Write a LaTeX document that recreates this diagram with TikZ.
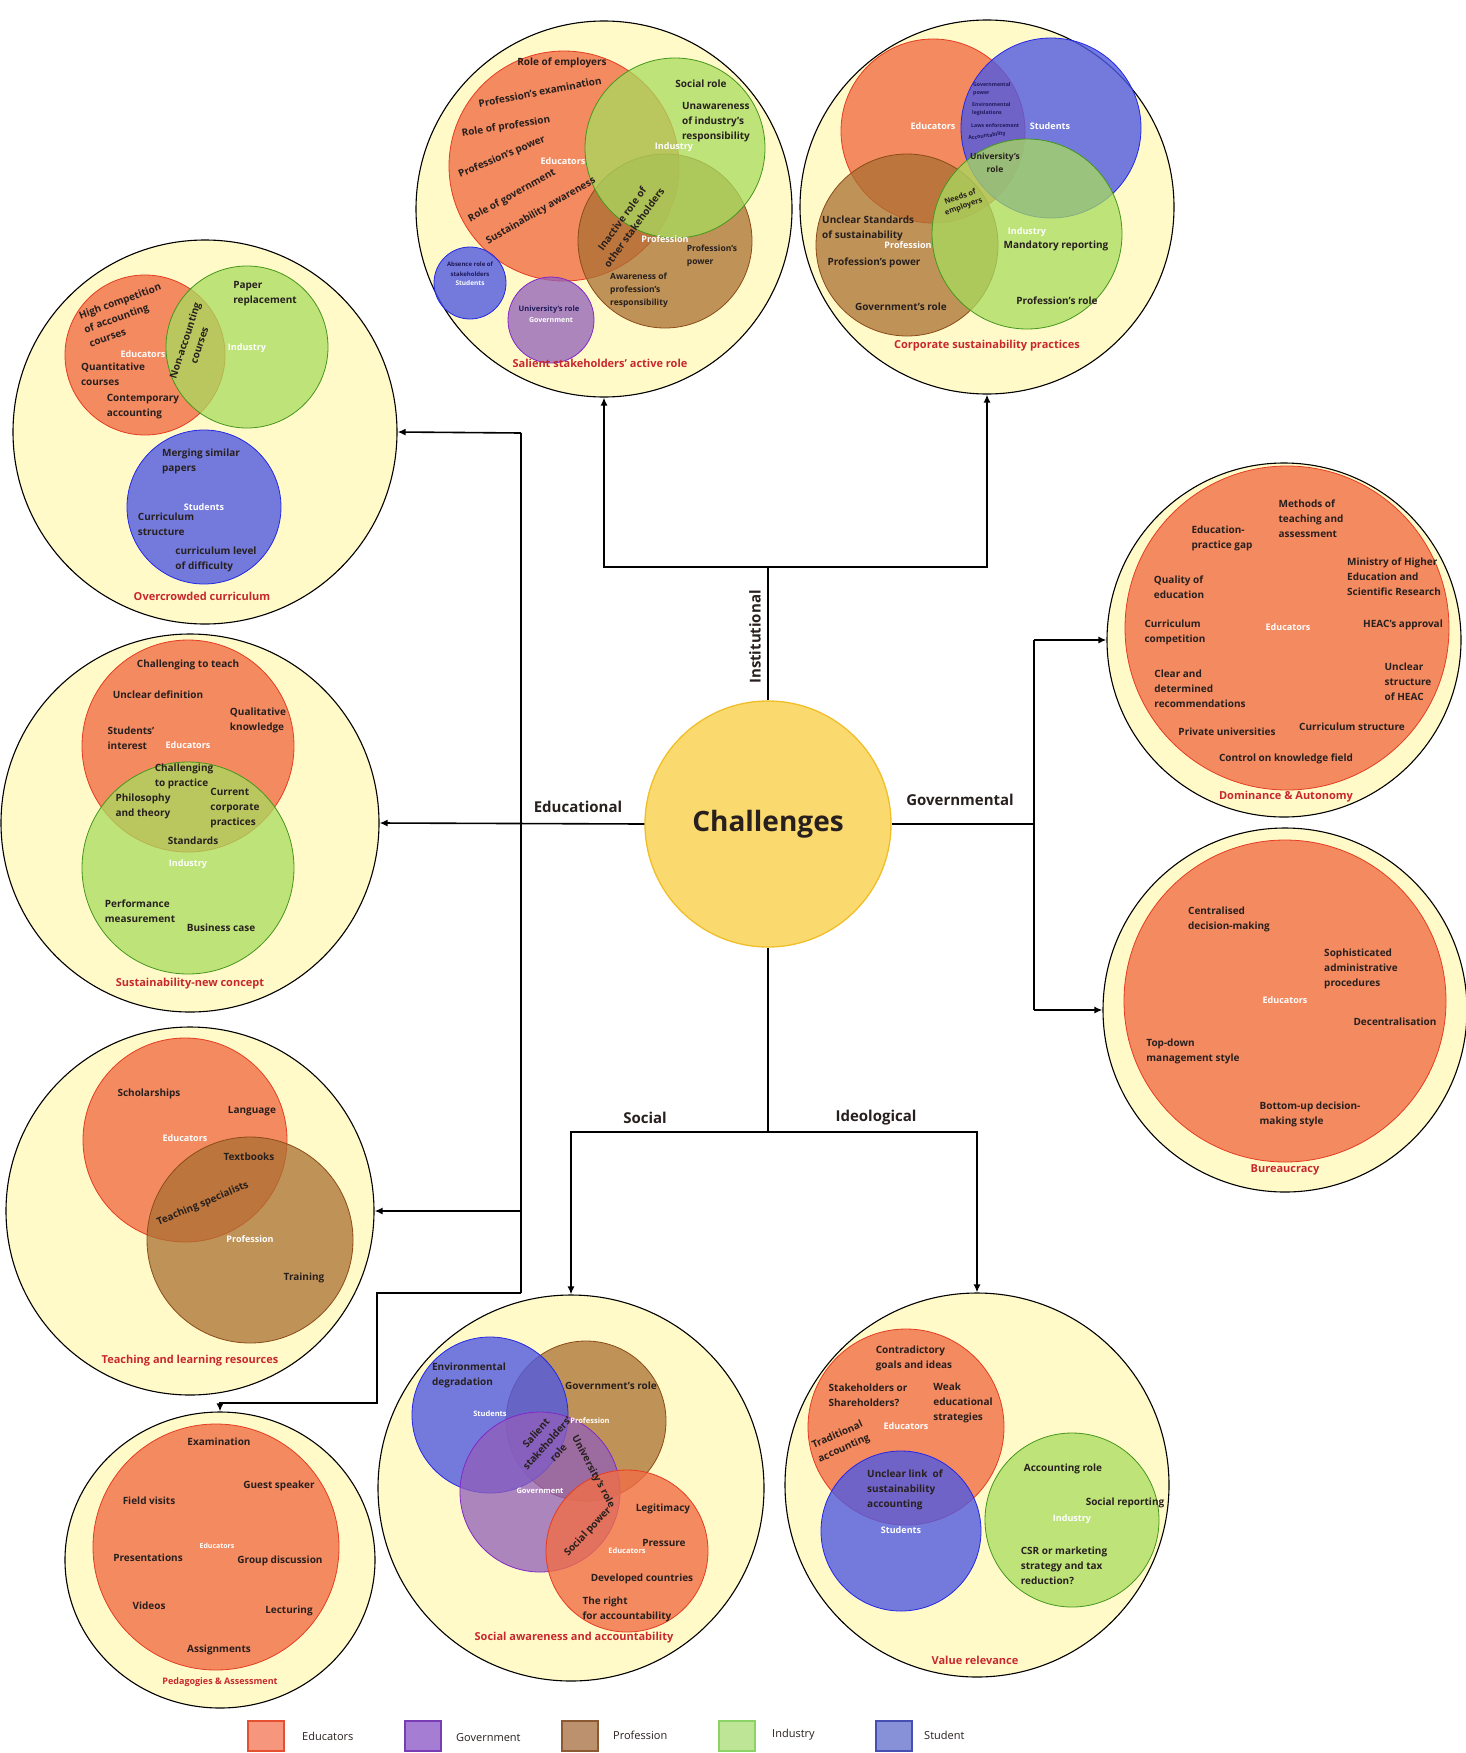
\documentclass[tikz,border=0pt]{standalone}
\usepackage{fontspec}
\setmainfont{Open Sans}
\usetikzlibrary{arrows.meta,shapes.geometric}
\definecolor{outerF}{RGB}{255,250,200}
\definecolor{itemC}{RGB}{40,32,30}
\definecolor{titleC}{RGB}{200,40,45}
\definecolor{chF}{RGB}{250,218,110}
\definecolor{chD}{RGB}{240,190,40}
\definecolor{eduF}{RGB}{240,110,70}
\definecolor{eduD}{RGB}{230,60,35}
\definecolor{indF}{RGB}{168,220,95}
\definecolor{indD}{RGB}{70,150,30}
\definecolor{proF}{RGB}{170,112,50}
\definecolor{proD}{RGB}{140,75,25}
\definecolor{stuF}{RGB}{80,90,225}
\definecolor{stuD}{RGB}{35,40,230}
\definecolor{govF}{RGB}{145,95,185}
\definecolor{govD}{RGB}{130,40,200}
\definecolor{navyC}{RGB}{30,25,90}
\definecolor{lgEduF}{RGB}{246,150,125}\definecolor{lgEduD}{RGB}{230,80,50}
\definecolor{lgGovF}{RGB}{165,125,210}\definecolor{lgGovD}{RGB}{120,60,180}
\definecolor{lgProF}{RGB}{188,145,110}\definecolor{lgProD}{RGB}{140,90,50}
\definecolor{lgIndF}{RGB}{190,228,150}\definecolor{lgIndD}{RGB}{140,210,100}
\definecolor{lgStuF}{RGB}{135,145,215}\definecolor{lgStuD}{RGB}{70,80,180}
\begin{document}
\begin{tikzpicture}[x=1pt,y=-1pt,
  outer/.style={circle,draw=black,line width=1.1pt,fill=outerF,inner sep=0pt},
  vedu/.style={fill=eduF,draw=eduD,fill opacity=0.8,line width=0.8pt},
  vind/.style={fill=indF,draw=indD,fill opacity=0.75,line width=0.8pt},
  vpro/.style={fill=proF,draw=proD,fill opacity=0.75,line width=0.8pt},
  vstu/.style={fill=stuF,draw=stuD,fill opacity=0.8,line width=0.8pt},
  vgov/.style={fill=govF,draw=govD,fill opacity=0.75,line width=0.8pt},
  it/.style={font=\bfseries\fontsize{10}{15}\selectfont,text=itemC,align=center,inner sep=0pt},
  itl/.style={it,align=left},
  sm/.style={font=\bfseries\fontsize{8.5}{13}\selectfont},
  tiny/.style={font=\bfseries\fontsize{5.2}{8}\selectfont,text=navyC},
  wl/.style={font=\bfseries\fontsize{9}{10}\selectfont,text=white,inner sep=0pt},
  ttl/.style={font=\bfseries\fontsize{11}{13}\selectfont,text=titleC,inner sep=0pt},
  brl/.style={font=\bfseries\fontsize{15}{17}\selectfont,text=itemC,inner sep=0pt},
  conn/.style={draw=black,line width=1.6pt},
  arr/.style={conn,-{Latex[length=8pt,width=7pt]}},
  lgbox/.style={minimum width=36pt,minimum height=30pt,line width=1.4pt,inner sep=0pt},
  lgtxt/.style={font=\fontsize{11}{13}\selectfont,text=itemC,anchor=west,inner sep=0pt}]
\useasboundingbox (0,0) rectangle (1465,1753);
\fill[white] (0,0) rectangle (1465,1753);

% ---------- outer theme circles ----------
\node[outer,minimum size=376pt] (ss) at (604,209) {};
\node[outer,minimum size=374pt] (cs) at (987,207) {};
\node[outer,minimum size=384pt] (oc) at (205,432) {};
\node[outer,minimum size=378pt] (sn) at (190,823) {};
\node[outer,minimum size=368pt] (tl) at (190,1211) {};
\node[outer,ellipse,minimum width=310pt,minimum height=296pt] (pa) at (220,1560) {};
\node[outer,minimum size=386pt] (sa) at (571,1488) {};
\node[outer,minimum size=384pt] (vr) at (977,1485) {};
\node[outer,minimum size=354pt] (da) at (1284,640) {};
\node[outer,minimum size=364pt] (bu) at (1285,1010) {};

% ---------- central node and connectors ----------
\node[circle,fill=chF,draw=chD,line width=1.3pt,minimum size=246pt,inner sep=0pt,
      font=\bfseries\fontsize{28}{32}\selectfont,text=itemC] (ch) at (768,824) {Challenges};

\coordinate (tj) at (768,567);
\draw[conn] (ch.north) -- (tj);
\draw[arr] (tj) -| (ss.south);
\draw[arr] (tj) -| (cs.south);

\coordinate (lvt) at (521,433);
\coordinate (lvb) at (521,1293);
\coordinate (lb1) at (377,1293);
\coordinate (lb2) at (377,1403);
\draw[conn] (lvt) -- (lvb);
\draw[arr] (lvt) -- (oc.east);
\draw[arr] (ch.west) -- (sn.east);
\draw[arr] (lvb |- tl.east) -- (tl.east);
\draw[arr] (lvb) -- (lb1) -- (lb2) -| (pa.north);

\coordinate (rvt) at (1034,640);
\coordinate (rvb) at (1034,1010);
\draw[conn] (ch.east) -- (ch.east -| rvt);
\draw[conn] (rvt) -- (rvb);
\draw[arr] (rvt) -- (da.west);
\draw[arr] (rvb) -- (bu.west);

\coordinate (bj) at (768,1132);
\draw[conn] (ch.south) -- (bj);
\draw[arr] (bj) -| (sa.north);
\draw[arr] (bj) -| (vr.north);

\node[brl,rotate=90] (lbi) at (755,637) {Institutional};
\node[brl] (lbe) at (578,807) {Educational};
\node[brl] (lbg) at (960,800) {Governmental};
\node[brl] (lbs) at (645,1118) {Social};
\node[brl] (lbd) at (876,1118) {Ideological};

% ---------- Salient stakeholders' active role ----------
\path[vedu] (564,166) circle (115);
\path[vpro] (665,241) circle (87);
\path[vind] (675,148) circle (90);
\path[vstu] (470,283) circle (36);
\path[vgov] (551,320) circle (43);
\node[it] (ss1) at (562,63) {Role of employers};
\node[it,rotate=11] (ss2) at (540,92) {Profession’s examination};
\node[it,rotate=9] (ss3) at (506,127) {Role of profession};
\node[it,rotate=23] (ss4) at (502,157) {Profession’s power};
\node[it,rotate=29] (ss5) at (512,196) {Role of government};
\node[it,rotate=30] (ss6) at (541,211) {Sustainability awareness};
\node[wl] (ss7) at (563,161) {Educators};
\node[it] (ss8) at (701,84) {Social role};
\node[itl] (ss9) at (716,122) {Unawareness\\of industry’s\\responsibility};
\node[wl] (ss10) at (674,147) {Industry};
\node[it,rotate=54] (ss11) at (628,223) {Inactive role of\\other stakeholders};
\node[wl] (ss12) at (665,239) {Profession};
\node[itl,sm] (ss13) at (712,256) {Profession’s\\power};
\node[itl,sm] (ss14) at (639,290) {Awareness of\\profession’s\\responsibility};
\node[it,tiny,font=\bfseries\fontsize{6}{10}\selectfont] (ss15) at (470,269) {Absence role of\\stakeholders};
\node[wl,font=\bfseries\fontsize{6.5}{8}\selectfont] (ss16) at (470,283) {Students};
\node[it,font=\bfseries\fontsize{7.5}{9}\selectfont,text=navyC] (ss17) at (549,310) {University’s role};
\node[wl,font=\bfseries\fontsize{7}{8}\selectfont] (ss18) at (551,320) {Government};
\node[ttl] (ss19) at (600,363) {Salient stakeholders’ active role};

% ---------- Corporate sustainability practices ----------
\path[vedu] (933,131) circle (92);
\path[vstu] (1051,128) circle (90);
\path[vpro] (907,245) circle (91);
\path[vind] (1027,234) circle (95);
\node[it,tiny,align=left,anchor=west] (cs1) at (973,89) {Governmental\\power};
\node[it,tiny,align=left,anchor=west] (cs2) at (972,109) {Environmental\\legislations};
\node[it,tiny,anchor=west] (cs3) at (971,126) {Laws enforcement};
\node[it,tiny,rotate=8] (cs4) at (987,136) {Accountability};
\node[wl] (cs5) at (933,126) {Educators};
\node[wl] (cs6) at (1050,126) {Students};
\node[it,sm] (cs7) at (995,163) {University’s\\role};
\node[it,font=\bfseries\fontsize{7.5}{10}\selectfont,rotate=20] (cs8) at (962,202) {Needs of\\employers};
\node[itl,anchor=west] (cs9) at (822,228) {Unclear Standards\\of sustainability};
\node[wl] (cs10) at (908,245) {Profession};
\node[it] (cs11) at (874,263) {Profession’s power};
\node[it] (cs12) at (901,307) {Government’s role};
\node[wl] (cs13) at (1027,232) {Industry};
\node[it] (cs14) at (1056,246) {Mandatory reporting};
\node[it] (cs15) at (1057,301) {Profession’s role};
\node[ttl] (cs16) at (987,346) {Corporate sustainability practices};

% ---------- Overcrowded curriculum ----------
\path[vedu] (145,355) circle (80);
\node[wl] (oc1) at (143,354) {Educators};
\path[vind] (247,347) circle (81);
\path[vstu] (204,507) circle (77);
\node[itl,rotate=20] (oc2) at (125,315) {High competition\\of accounting\\courses};
\node[itl] (oc3) at (113,374) {Quantitative\\courses};
\node[itl] (oc4) at (143,407) {Contemporary\\accounting};
\node[it,rotate=72] (oc5) at (192,343) {Non-accounting\\courses};
\node[itl] (oc6) at (265,294) {Paper\\replacement};
\node[wl] (oc7) at (247,348) {Industry};
\node[itl] (oc8) at (201,461) {Merging similar\\papers};
\node[wl] (oc9) at (204,507) {Students};
\node[itl] (oc10) at (166,524) {Curriculum\\structure};
\node[itl] (oc11) at (216,559) {curriculum level\\of difficulty};
\node[ttl] (oc12) at (202,596) {Overcrowded curriculum};

% ---------- Sustainability-new concept ----------
\path[vedu] (188,746) circle (106);
\path[vind] (188,868) circle (106);
\node[it] (sn1) at (188,665) {Challenging to teach};
\node[it] (sn2) at (158,695) {Unclear definition};
\node[itl] (sn3) at (258,720) {Qualitative\\knowledge};
\node[itl] (sn4) at (131,738) {Students’\\interest};
\node[wl] (sn5) at (188,745) {Educators};
\node[itl] (sn6) at (184,776) {Challenging\\to practice};
\node[itl] (sn7) at (143,806) {Philosophy\\and theory};
\node[itl] (sn8) at (235,808) {Current\\corporate\\practices};
\node[it] (sn9) at (193,841) {Standards};
\node[wl] (sn10) at (188,864) {Industry};
\node[itl] (sn11) at (140,911) {Performance\\measurement};
\node[it] (sn12) at (221,928) {Business case};
\node[ttl] (sn13) at (190,984) {Sustainability-new concept};

% ---------- Teaching and learning resources ----------
\path[vedu] (185,1140) circle (102);
\path[vpro] (250,1240) circle (103);
\node[it] (tl1) at (149,1094) {Scholarships};
\node[it] (tl2) at (252,1111) {Language};
\node[wl] (tl3) at (185,1138) {Educators};
\node[it] (tl4) at (249,1157) {Textbooks};
\node[it,rotate=23] (tl5) at (203,1204) {Teaching specialists};
\node[wl] (tl6) at (250,1239) {Profession};
\node[it] (tl7) at (304,1278) {Training};
\node[ttl] (tl8) at (190,1361) {Teaching and learning resources};

% ---------- Pedagogies & Assessment ----------
\path[vedu] (216,1547) circle (123);
\node[it] (pa1) at (219,1442) {Examination};
\node[it] (pa2) at (279,1486) {Guest speaker};
\node[it] (pa3) at (149,1501) {Field visits};
\node[wl,font=\bfseries\fontsize{7}{8}\selectfont] (pa4) at (217,1546) {Educators};
\node[it] (pa5) at (148,1558) {Presentations};
\node[it] (pa6) at (280,1561) {Group discussion};
\node[it] (pa7) at (149,1606) {Videos};
\node[it] (pa8) at (289,1611) {Lecturing};
\node[it] (pa9) at (219,1650) {Assignments};
\node[ttl,font=\bfseries\fontsize{9}{11}\selectfont] (pa10) at (220,1682) {Pedagogies \& Assessment};

% ---------- Social awareness and accountability ----------
\path[vpro] (586,1421) circle (80);
\path[vstu] (490,1415) circle (78);
\path[vgov] (540,1492) circle (80);
\path[vedu] (627,1551) circle (81);
\node[itl] (sa1) at (469,1375) {Environmental\\degradation};
\node[it] (sa2) at (611,1386) {Government’s role};
\node[wl,font=\bfseries\fontsize{7.5}{8}\selectfont] (sa3) at (490,1414) {Students};
\node[wl,font=\bfseries\fontsize{7.5}{8}\selectfont] (sa4) at (590,1421) {Profession};
\node[it,rotate=48] (sa5) at (547,1443) {Salient\\stakeholders’\\role};
\node[it,rotate=-62] (sa6) at (593,1472) {University’s role};
\node[wl,font=\bfseries\fontsize{7.5}{8}\selectfont] (sa7) at (540,1491) {Government};
\node[it,rotate=47] (sa8) at (588,1532) {Social power};
\node[it] (sa9) at (663,1509) {Legitimacy};
\node[it] (sa10) at (664,1543) {Pressure};
\node[wl,font=\bfseries\fontsize{7.5}{8}\selectfont] (sa11) at (627,1551) {Educators};
\node[it] (sa12) at (642,1579) {Developed countries};
\node[itl] (sa13) at (627,1609) {The right\\for accountability};
\node[ttl] (sa14) at (574,1638) {Social awareness and accountability};

% ---------- Value relevance ----------
\path[vedu] (906,1427) circle (98);
\path[vstu] (901,1531) circle (80);
\path[vind] (1072,1520) circle (87);
\node[itl] (vr1) at (914,1358) {Contradictory\\goals and ideas};
\node[itl] (vr2) at (868,1395) {Stakeholders or\\Shareholders?};
\node[itl] (vr3) at (963,1403) {Weak\\educational\\strategies};
\node[wl] (vr4) at (906,1426) {Educators};
\node[itl,rotate=24] (vr5) at (841,1442) {Traditional\\accounting};
\node[itl] (vr6) at (905,1490) {Unclear link~~of\\sustainability\\accounting};
\node[wl] (vr7) at (901,1530) {Students};
\node[it] (vr8) at (1063,1469) {Accounting role};
\node[it] (vr9) at (1125,1503) {Social reporting};
\node[wl] (vr10) at (1072,1519) {Industry};
\node[itl] (vr11) at (1064,1566) {CSR or marketing\\strategy and tax\\reduction?};
\node[ttl] (vr12) at (975,1660) {Value relevance};

% ---------- Dominance & Autonomy ----------
\path[vedu] (1287,628) circle (162);
\node[itl] (da1) at (1311,519) {Methods of\\teaching and\\assessment};
\node[itl] (da2) at (1222,538) {Education-\\practice gap};
\node[itl] (da3) at (1394,577) {Ministry of Higher\\Education and\\Scientific Research};
\node[itl] (da4) at (1179,587) {Quality of\\education};
\node[itl] (da5) at (1175,632) {Curriculum\\competition};
\node[wl] (da6) at (1288,627) {Educators};
\node[it] (da7) at (1403,625) {HEAC’s approval};
\node[itl] (da8) at (1200,689) {Clear and\\determined\\recommendations};
\node[itl] (da9) at (1408,682) {Unclear\\structure\\of HEAC};
\node[it] (da10) at (1227,732) {Private universities};
\node[it] (da11) at (1352,727) {Curriculum structure};
\node[it] (da12) at (1286,759) {Control on knowledge field};
\node[ttl] (da13) at (1286,797) {Dominance \& Autonomy};

% ---------- Bureaucracy ----------
\path[vedu] (1285,1001) circle (161);
\node[itl] (bu1) at (1229,919) {Centralised\\decision-making};
\node[itl] (bu2) at (1361,969) {Sophisticated\\administrative\\procedures};
\node[wl] (bu3) at (1285,1000) {Educators};
\node[it] (bu4) at (1395,1022) {Decentralisation};
\node[itl] (bu5) at (1193,1051) {Top-down\\management style};
\node[itl] (bu6) at (1310,1114) {Bottom-up decision-\\making style};
\node[ttl] (bu7) at (1285,1170) {Bureaucracy};

% ---------- legend ----------
\node[lgbox,fill=lgEduF,draw=lgEduD] (lg1) at (266,1736) {};
\node[lgtxt] (lt1) at (302,1736) {Educators};
\node[lgbox,fill=lgGovF,draw=lgGovD] (lg2) at (423,1736) {};
\node[lgtxt] (lt2) at (456,1738) {Government};
\node[lgbox,fill=lgProF,draw=lgProD] (lg3) at (580,1736) {};
\node[lgtxt] (lt3) at (613,1735) {Profession};
\node[lgbox,fill=lgIndF,draw=lgIndD] (lg4) at (737,1736) {};
\node[lgtxt] (lt4) at (772,1735) {Industry};
\node[lgbox,fill=lgStuF,draw=lgStuD] (lg5) at (894,1736) {};
\node[lgtxt] (lt5) at (924,1735) {Student};
\end{tikzpicture}
\end{document}
